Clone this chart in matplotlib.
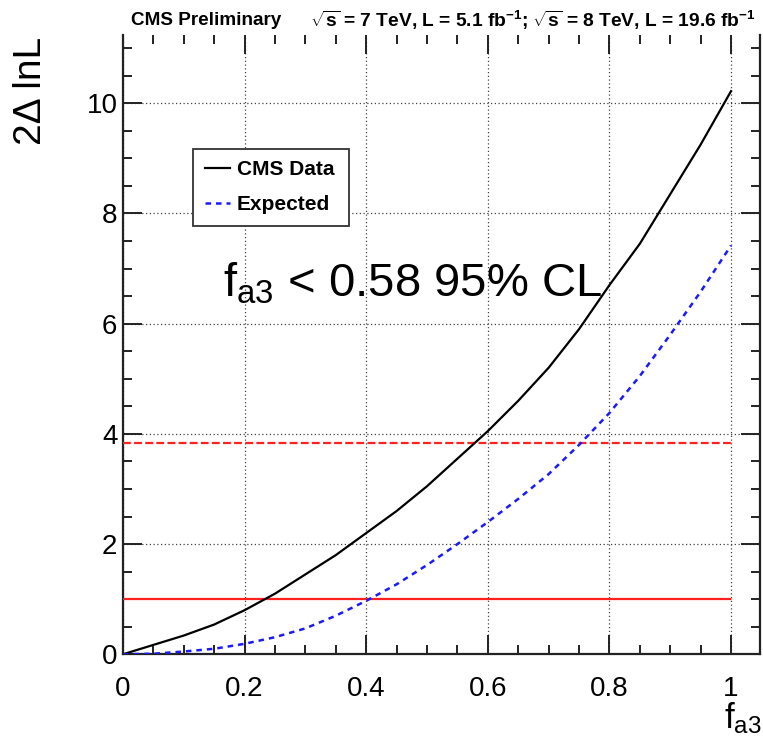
import matplotlib
matplotlib.use("Agg")
import matplotlib.pyplot as plt
from matplotlib import font_manager
from matplotlib.ticker import MultipleLocator

# ---- data ----
fa3 = [0.0, 0.05, 0.1, 0.15, 0.2, 0.25, 0.3, 0.35, 0.4, 0.45, 0.5,
       0.55, 0.6, 0.65, 0.7, 0.75, 0.8, 0.85, 0.9, 0.95, 1.0]
data_nll = [0.0, 0.17, 0.34, 0.54, 0.80, 1.10, 1.45, 1.80, 2.20, 2.60, 3.05,
            3.55, 4.05, 4.60, 5.20, 5.90, 6.70, 7.45, 8.35, 9.25, 10.22]
exp_nll = [0.0, 0.01, 0.05, 0.10, 0.19, 0.31, 0.47, 0.70, 0.97, 1.27, 1.62,
           2.00, 2.40, 2.82, 3.27, 3.80, 4.38, 5.05, 5.80, 6.58, 7.42]
cl_levels = [1.0, 3.84]
cl_styles = ["-", (0, (3.5, 1.5))]
legend_labels = ["CMS Data", "Expected"]
xticks = [0, 0.2, 0.4, 0.6, 0.8, 1.0]
xticklabels = ["0", "0.2", "0.4", "0.6", "0.8", "1"]
yticks = [0, 2, 4, 6, 8, 10]

names = {f.name for f in font_manager.fontManager.ttflist}
narrow = "Liberation Sans Narrow" if "Liberation Sans Narrow" in names else "Liberation Sans"
tick_fs = 23 if narrow == "Liberation Sans Narrow" else 20

plt.rcParams["font.family"] = ["Liberation Sans", "DejaVu Sans"]
plt.rcParams["mathtext.fontset"] = "custom"
plt.rcParams["mathtext.rm"] = "Liberation Sans"
plt.rcParams["mathtext.default"] = "regular"

fig = plt.figure(figsize=(7.63, 7.44), dpi=100)
ax = fig.add_axes([0.1612, 0.1206, 0.8349, 0.8324])

ax.plot(fa3, data_nll, color="black", lw=1.6, label=legend_labels[0], zorder=4)
ax.plot(fa3, exp_nll, color="#1a1aff", lw=1.8, ls=(0, (2.2, 2.0)),
        label=legend_labels[1], zorder=4)
for lvl, st in zip(cl_levels, cl_styles):
    ax.hlines(lvl, xticks[0], xticks[-1], colors="#ff2020", lw=1.6, linestyles=st, zorder=3)

ax.set_xlim(0, 1.0477)
ax.set_ylim(0, 11.24)
ax.set_xticks(xticks)
ax.set_xticklabels(xticklabels, fontfamily=narrow, fontsize=tick_fs)
ax.set_yticks(yticks)
ax.set_yticklabels([str(v) for v in yticks], fontfamily=narrow, fontsize=tick_fs)
ax.xaxis.set_minor_locator(MultipleLocator(0.05))
ax.yaxis.set_minor_locator(MultipleLocator(0.5))
ax.tick_params(which="both", direction="in", top=True, right=True, width=1.4, color="#222222")
ax.tick_params(which="major", length=13.5)
ax.tick_params(which="minor", length=6.5)
ax.tick_params(axis="x", which="major", pad=16)
ax.tick_params(axis="y", which="major", pad=4)
ax.grid(True, which="major", ls=(0, (1, 2)), color="#444444", lw=0.9)
ax.set_axisbelow(True)
for side in ["left", "bottom", "right"]:
    ax.spines[side].set_linewidth(1.6)
    ax.spines[side].set_color("#222222")
ax.spines["top"].set_visible(False)

ax.set_ylabel("2\u0394 lnL", fontsize=28)
ax.yaxis.set_label_coords(-0.116, 0.909)
fig.text(0.9985, 0.021, r"$f_{a3}$", fontsize=25, ha="right", va="baseline")

ax.text(0.164, 6.49, r"$f_{a3}$ < 0.58 95% CL", fontsize=34, ha="left", va="baseline", zorder=5)

fig.text(0.172, 0.973, "CMS Preliminary", fontsize=13.6, fontweight="bold",
         fontfamily=narrow, ha="left", va="center")
fig.text(0.99, 0.973,
         r"$\sqrt{s}$ = 7 TeV, L = 5.1 fb$^{-1}$; $\sqrt{s}$ = 8 TeV, L = 19.6 fb$^{-1}$",
         fontsize=13.8, fontweight="bold", fontfamily=narrow, ha="right", va="center")

leg = ax.legend(loc="upper left", bbox_to_anchor=(0.11, 0.5, 0.245, 0.316), mode="expand",
                borderaxespad=0,
                prop={"weight": "bold", "size": 15}, handlelength=1.2, handletextpad=0.35,
                labelspacing=0.76, borderpad=0.55, fancybox=False, framealpha=1,
                edgecolor="#333333")
leg.get_frame().set_linewidth(1.3)

fig.savefig("out.png", dpi=100)
